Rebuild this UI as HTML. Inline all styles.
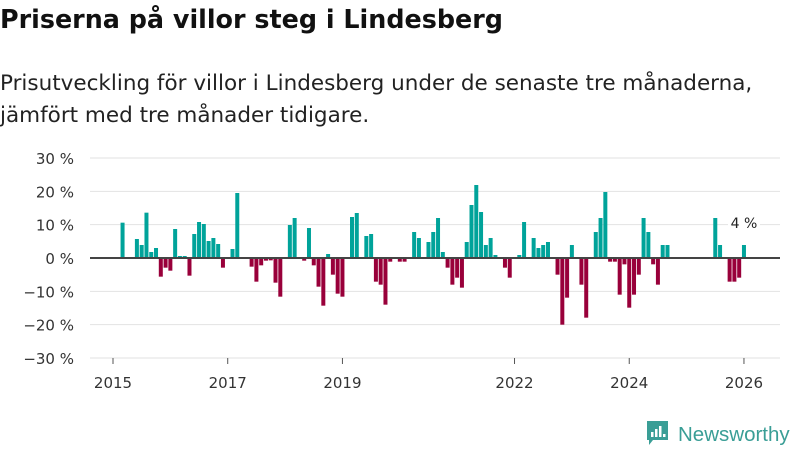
<!DOCTYPE html>
<html><head><meta charset="utf-8"><style>
body{margin:0;width:800px;height:450px;background:#fff;font-family:"DejaVu Sans","Liberation Sans",sans-serif;overflow:hidden;position:relative}
h1{position:absolute;left:0;top:4px;margin:0;font-size:25.4px;font-weight:bold;color:#111;white-space:nowrap}
p.sub{position:absolute;left:0;top:68px;margin:0;font-size:21.5px;line-height:32px;color:#222;white-space:nowrap}
svg{position:absolute;left:0;top:0}
</style></head><body>
<h1>Priserna på villor steg i Lindesberg</h1>
<p class="sub">Prisutveckling för villor i Lindesberg under de senaste tre månaderna,<br>jämfört med tre månader tidigare.</p>
<svg id="chart" width="800" height="450"></svg>
<script>
const yTicks=[30,20,10,0,-10,-20,-30];
const yTickLabels=["30 %","20 %","10 %","0 %","−10 %","−20 %","−30 %"];
const xTickMonths=[0,24,48,84,108,132];
const xTickLabels=["2015","2017","2019","2022","2024","2026"];
// month offsets from Jan 2015 and change values (%)
const months=[2,5,6,7,8,9,10,11,12,13,14,15,16,17,18,19,20,21,22,23,25,26,29,30,31,32,33,34,35,37,38,40,41,42,43,44,45,46,47,48,50,51,53,54,55,56,57,58,60,61,63,64,66,67,68,69,70,71,72,73,74,75,76,77,78,79,80,82,83,85,86,88,89,90,91,93,94,95,96,98,99,101,102,103,104,105,106,107,108,109,110,111,112,113,114,115,116,126,127,129,130,131,132];
const values=[10.6,5.7,3.9,13.6,1.8,3.0,-5.6,-2.9,-3.8,8.7,0.6,0.6,-5.3,7.2,10.8,10.2,5.1,6.0,4.2,-2.9,2.7,19.5,-2.6,-7.1,-2.2,-0.8,-0.7,-7.4,-11.6,9.9,12.0,-0.8,9.0,-2.2,-8.6,-14.3,1.2,-5.0,-10.7,-11.6,12.3,13.5,6.6,7.2,-7.1,-8.0,-14.0,-1.1,-1.1,-1.1,7.8,6.0,4.8,7.8,12.0,1.8,-2.9,-8.0,-5.9,-8.9,4.8,15.9,21.9,13.8,3.9,6.0,0.9,-2.9,-5.9,0.9,10.8,6.0,3.0,3.9,4.8,-5.0,-20.0,-11.9,3.9,-8.0,-17.9,7.8,12.0,19.8,-1.1,-1.1,-11.0,-1.9,-14.9,-11.0,-5.0,12.0,7.8,-1.9,-8.0,3.9,3.9,12.0,3.9,-7.1,-7.1,-5.9,3.9];
const lastLabel="4 %";

const svg=document.getElementById('chart');
const NS='http://www.w3.org/2000/svg';
const FF='DejaVu Sans, Liberation Sans, sans-serif';
const x=m=>113+m*4.78;
const y=v=>258-v*(100/30);
function mk(t,a,p){const e=document.createElementNS(NS,t);for(const k in a)e.setAttribute(k,a[k]);(p||svg).appendChild(e);return e;}

yTicks.forEach((t,i)=>{
  const g=mk('line',{x1:90,x2:780,y1:y(t),y2:y(t),stroke:'#e2e2e2','stroke-width':1});
  
  
  const tx=mk('text',{x:74,y:y(t)+6,'text-anchor':'end','font-size':15,fill:'#333','font-family':FF});
  tx.textContent=yTickLabels[i];
  
  
});
xTickMonths.forEach((m,i)=>{
  const tl=mk('line',{x1:x(m),x2:x(m),y1:358,y2:364,stroke:'#555','stroke-width':1});
  
  
  const tx=mk('text',{x:x(m),y:388,'text-anchor':'middle','font-size':15,fill:'#333','font-family':FF});
  tx.textContent=xTickLabels[i];
  
  
});
months.forEach((m,i)=>{
  const v=values[i];
  const r=mk('rect',{x:x(m)-2,width:4,y:Math.min(y(v),y(0)),height:Math.abs(y(v)-y(0)),fill:v>=0?'#00a39a':'#99003a'});
  
  
});
const zl=mk('line',{x1:90,x2:780,y1:y(0),y2:y(0),stroke:'#444','stroke-width':2});


const lm=months[months.length-1];
const lb=mk('rect',{x:x(lm)-16,y:212,width:32,height:20,fill:'#fff'});


const lt=mk('text',{x:x(lm),y:228,'text-anchor':'middle','font-size':14,fill:'#222','font-family':FF});
lt.textContent=lastLabel;



const logo=mk('g',{});


mk('path',{d:'M647 421h21v19h-15l-4 5v-5h-2z',fill:'#3a9e96'},logo);
mk('rect',{x:651,y:432,width:2.5,height:5,fill:'#fff'},logo);
mk('rect',{x:655,y:429,width:2.5,height:8,fill:'#fff'},logo);
mk('rect',{x:659,y:426,width:2.5,height:11,fill:'#fff'},logo);
mk('rect',{x:663,y:434,width:2.5,height:3,fill:'#fff'},logo);
const lg=mk('text',{x:678,y:441,'font-size':20.5,fill:'#3a9e96','font-family':'Liberation Sans, sans-serif'},logo);
lg.textContent='Newsworthy';


</script>
</body></html>
